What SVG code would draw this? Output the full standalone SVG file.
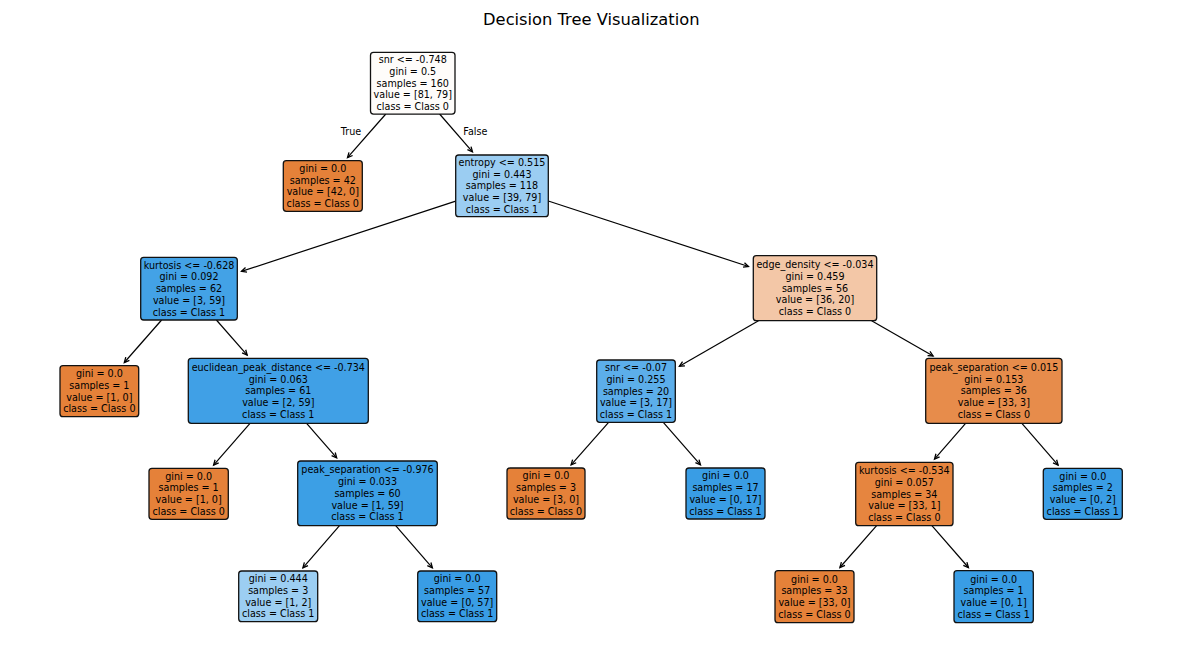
<svg xmlns="http://www.w3.org/2000/svg" width="1182" height="658" viewBox="0 0 1182 658">
<style>
text{font-family:"DejaVu Sans","Liberation Sans",sans-serif;fill:#000}
.t{font-size:9.6px;text-anchor:middle}
.title{font-size:16.3px;text-anchor:middle}
.box{stroke:#111;stroke-width:1.3}
.c{stroke:#000;stroke-width:1.2;fill:none;marker-end:url(#ah)}
</style>
<defs>
<marker id="ah" markerUnits="userSpaceOnUse" markerWidth="10" markerHeight="10" refX="0" refY="0" orient="auto" overflow="visible">
<path d="M-5,-2.4 L0,0 L-5,2.4" fill="none" stroke="#000" stroke-width="1.3"/>
</marker>
</defs>
<rect width="1182" height="658" fill="#fff"/>
<text class="title" x="591.3" y="24.5">Decision Tree Visualization</text>
<g id="connectors">
<line class="c" x1="385.8" y1="114" x2="347.5" y2="157.7"/>
<line class="c" x1="439.6" y1="114" x2="472.5" y2="151.9"/>
<line class="c" x1="455.7" y1="201.1" x2="241.5" y2="271.4"/>
<line class="c" x1="548.3" y1="201.0" x2="748.5" y2="266.5"/>
<line class="c" x1="161.6" y1="320" x2="124.3" y2="362.5"/>
<line class="c" x1="216.4" y1="320" x2="247.2" y2="355.1"/>
<line class="c" x1="250.0" y1="423.3" x2="213.6" y2="465.1"/>
<line class="c" x1="306.6" y1="423.3" x2="336.7" y2="457.8"/>
<line class="c" x1="339.5" y1="525.7" x2="302.9" y2="567.8"/>
<line class="c" x1="395.7" y1="525.7" x2="432.4" y2="567.8"/>
<line class="c" x1="758.5" y1="320.7" x2="679.4" y2="366.2"/>
<line class="c" x1="871.6" y1="320.7" x2="933.1" y2="356.0"/>
<line class="c" x1="608.6" y1="422.3" x2="571.1" y2="464.9"/>
<line class="c" x1="663.3" y1="422.3" x2="700.5" y2="464.9"/>
<line class="c" x1="965.6" y1="423.3" x2="934.5" y2="459.1"/>
<line class="c" x1="1021.9" y1="423.3" x2="1058.1" y2="465.1"/>
<line class="c" x1="876.6" y1="525.7" x2="839.9" y2="567.5"/>
<line class="c" x1="931.9" y1="525.7" x2="968.4" y2="567.5"/>
<text class="t" x="351" y="134.5">True</text>
<text class="t" x="475.3" y="134.5">False</text>
</g>
<g id="n0"><rect class="box" x="370.5" y="52.3" width="84.5" height="61.8" rx="3" fill="#fefcfa"/>
<text class="t" x="412.75" y="63.3">snr &lt;= -0.748<tspan x="412.75" dy="11.7">gini = 0.5</tspan><tspan x="412.75" dy="11.7">samples = 160</tspan><tspan x="412.75" dy="11.7">value = [81, 79]</tspan><tspan x="412.75" dy="11.7">class = Class 0</tspan></text></g>
<g id="n1"><rect class="box" x="283.3" y="160.7" width="79" height="50.6" rx="3" fill="#e58139"/>
<text class="t" x="322.8" y="171.95">gini = 0.0<tspan x="322.8" dy="11.7">samples = 42</tspan><tspan x="322.8" dy="11.7">value = [42, 0]</tspan><tspan x="322.8" dy="11.7">class = Class 0</tspan></text></g>
<g id="n2"><rect class="box" x="455.7" y="155" width="92.6" height="61.7" rx="3" fill="#9bcdf2"/>
<text class="t" x="502" y="165.95">entropy &lt;= 0.515<tspan x="502" dy="11.7">gini = 0.443</tspan><tspan x="502" dy="11.7">samples = 118</tspan><tspan x="502" dy="11.7">value = [39, 79]</tspan><tspan x="502" dy="11.7">class = Class 1</tspan></text></g>
<g id="n3"><rect class="box" x="140.7" y="257.3" width="96.6" height="62.7" rx="3" fill="#43a2e6"/>
<text class="t" x="189" y="268.75">kurtosis &lt;= -0.628<tspan x="189" dy="11.7">gini = 0.092</tspan><tspan x="189" dy="11.7">samples = 62</tspan><tspan x="189" dy="11.7">value = [3, 59]</tspan><tspan x="189" dy="11.7">class = Class 1</tspan></text></g>
<g id="n4"><rect class="box" x="60" y="365.7" width="78.7" height="51" rx="3" fill="#e58139"/>
<text class="t" x="99.35" y="377.15">gini = 0.0<tspan x="99.35" dy="11.7">samples = 1</tspan><tspan x="99.35" dy="11.7">value = [1, 0]</tspan><tspan x="99.35" dy="11.7">class = Class 0</tspan></text></g>
<g id="n5"><rect class="box" x="188.3" y="358.3" width="180" height="65" rx="3" fill="#40a0e6"/>
<text class="t" x="278.3" y="370.9">euclidean_peak_distance &lt;= -0.734<tspan x="278.3" dy="11.7">gini = 0.063</tspan><tspan x="278.3" dy="11.7">samples = 61</tspan><tspan x="278.3" dy="11.7">value = [2, 59]</tspan><tspan x="278.3" dy="11.7">class = Class 1</tspan></text></g>
<g id="n6"><rect class="box" x="149" y="468.3" width="79.3" height="51" rx="3" fill="#e58139"/>
<text class="t" x="188.65" y="479.75">gini = 0.0<tspan x="188.65" dy="11.7">samples = 1</tspan><tspan x="188.65" dy="11.7">value = [1, 0]</tspan><tspan x="188.65" dy="11.7">class = Class 0</tspan></text></g>
<g id="n7"><rect class="box" x="297.7" y="461" width="139.6" height="64.7" rx="3" fill="#3c9fe5"/>
<text class="t" x="367.5" y="473.45">peak_separation &lt;= -0.976<tspan x="367.5" dy="11.7">gini = 0.033</tspan><tspan x="367.5" dy="11.7">samples = 60</tspan><tspan x="367.5" dy="11.7">value = [1, 59]</tspan><tspan x="367.5" dy="11.7">class = Class 1</tspan></text></g>
<g id="n8"><rect class="box" x="238.7" y="571" width="79" height="50.7" rx="3" fill="#9ccef2"/>
<text class="t" x="278.2" y="582.3">gini = 0.444<tspan x="278.2" dy="11.7">samples = 3</tspan><tspan x="278.2" dy="11.7">value = [1, 2]</tspan><tspan x="278.2" dy="11.7">class = Class 1</tspan></text></g>
<g id="n9"><rect class="box" x="417.7" y="571" width="79" height="50.7" rx="3" fill="#399de5"/>
<text class="t" x="457.2" y="582.3">gini = 0.0<tspan x="457.2" dy="11.7">samples = 57</tspan><tspan x="457.2" dy="11.7">value = [0, 57]</tspan><tspan x="457.2" dy="11.7">class = Class 1</tspan></text></g>
<g id="n10"><rect class="box" x="753.3" y="255.7" width="123.4" height="65" rx="3" fill="#f3c7a7"/>
<text class="t" x="815" y="268.3">edge_density &lt;= -0.034<tspan x="815" dy="11.7">gini = 0.459</tspan><tspan x="815" dy="11.7">samples = 56</tspan><tspan x="815" dy="11.7">value = [36, 20]</tspan><tspan x="815" dy="11.7">class = Class 0</tspan></text></g>
<g id="n11"><rect class="box" x="596.7" y="360" width="78.6" height="62.3" rx="3" fill="#5caeea"/>
<text class="t" x="636" y="371.25">snr &lt;= -0.07<tspan x="636" dy="11.7">gini = 0.255</tspan><tspan x="636" dy="11.7">samples = 20</tspan><tspan x="636" dy="11.7">value = [3, 17]</tspan><tspan x="636" dy="11.7">class = Class 1</tspan></text></g>
<g id="n12"><rect class="box" x="507" y="468" width="78" height="51" rx="3" fill="#e58139"/>
<text class="t" x="546" y="479.45">gini = 0.0<tspan x="546" dy="11.7">samples = 3</tspan><tspan x="546" dy="11.7">value = [3, 0]</tspan><tspan x="546" dy="11.7">class = Class 0</tspan></text></g>
<g id="n13"><rect class="box" x="686" y="468" width="79" height="51" rx="3" fill="#399de5"/>
<text class="t" x="725.5" y="479.45">gini = 0.0<tspan x="725.5" dy="11.7">samples = 17</tspan><tspan x="725.5" dy="11.7">value = [0, 17]</tspan><tspan x="725.5" dy="11.7">class = Class 1</tspan></text></g>
<g id="n14"><rect class="box" x="925.7" y="358.3" width="136.3" height="65" rx="3" fill="#e78c4b"/>
<text class="t" x="993.85" y="370.9">peak_separation &lt;= 0.015<tspan x="993.85" dy="11.7">gini = 0.153</tspan><tspan x="993.85" dy="11.7">samples = 36</tspan><tspan x="993.85" dy="11.7">value = [33, 3]</tspan><tspan x="993.85" dy="11.7">class = Class 0</tspan></text></g>
<g id="n15"><rect class="box" x="855.7" y="462.3" width="97.3" height="63.4" rx="3" fill="#e6853f"/>
<text class="t" x="904.35" y="474.1">kurtosis &lt;= -0.534<tspan x="904.35" dy="11.7">gini = 0.057</tspan><tspan x="904.35" dy="11.7">samples = 34</tspan><tspan x="904.35" dy="11.7">value = [33, 1]</tspan><tspan x="904.35" dy="11.7">class = Class 0</tspan></text></g>
<g id="n16"><rect class="box" x="1043.3" y="468.3" width="79" height="51" rx="3" fill="#399de5"/>
<text class="t" x="1082.8" y="479.75">gini = 0.0<tspan x="1082.8" dy="11.7">samples = 2</tspan><tspan x="1082.8" dy="11.7">value = [0, 2]</tspan><tspan x="1082.8" dy="11.7">class = Class 1</tspan></text></g>
<g id="n17"><rect class="box" x="775" y="570.7" width="79" height="52" rx="3" fill="#e58139"/>
<text class="t" x="814.5" y="582.65">gini = 0.0<tspan x="814.5" dy="11.7">samples = 33</tspan><tspan x="814.5" dy="11.7">value = [33, 0]</tspan><tspan x="814.5" dy="11.7">class = Class 0</tspan></text></g>
<g id="n18"><rect class="box" x="954" y="570.7" width="79.3" height="52" rx="3" fill="#399de5"/>
<text class="t" x="993.65" y="582.65">gini = 0.0<tspan x="993.65" dy="11.7">samples = 1</tspan><tspan x="993.65" dy="11.7">value = [0, 1]</tspan><tspan x="993.65" dy="11.7">class = Class 1</tspan></text></g>
</svg>
